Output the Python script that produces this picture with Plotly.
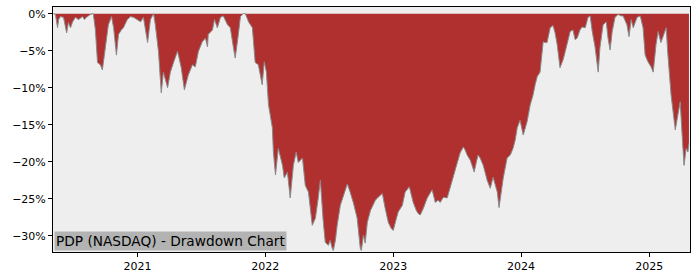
import plotly.graph_objects as go

dates = [
    "2020-05-06", "2020-05-12", "2020-05-18", "2020-05-21", "2020-05-26", "2020-06-04", "2020-06-13", "2020-06-18",
    "2020-06-24", "2020-06-30", "2020-07-08", "2020-07-17", "2020-07-28", "2020-08-03", "2020-08-08", "2020-08-14",
    "2020-08-20", "2020-08-28", "2020-09-03", "2020-09-09", "2020-09-17", "2020-09-23", "2020-10-02", "2020-10-10",
    "2020-10-19", "2020-10-25", "2020-11-02", "2020-11-08", "2020-11-16", "2020-11-22", "2020-12-03", "2020-12-12",
    "2020-12-21", "2021-01-01", "2021-01-10", "2021-01-18", "2021-01-30", "2021-02-07", "2021-02-16", "2021-02-21",
    "2021-03-02", "2021-03-10", "2021-03-16", "2021-03-28", "2021-04-05", "2021-04-14", "2021-04-25", "2021-04-28",
    "2021-05-06", "2021-05-15", "2021-05-26", "2021-06-07", "2021-06-15", "2021-06-24", "2021-07-05", "2021-07-14",
    "2021-07-20", "2021-07-22", "2021-08-03", "2021-08-09", "2021-08-17", "2021-08-26", "2021-09-03", "2021-09-15",
    "2021-09-23", "2021-10-02", "2021-10-07", "2021-10-16", "2021-10-22", "2021-10-30", "2021-11-05", "2021-11-14",
    "2021-11-25", "2021-12-03", "2021-12-12", "2021-12-23", "2021-12-29", "2022-01-04", "2022-01-10", "2022-01-21",
    "2022-01-24", "2022-01-30", "2022-02-04", "2022-02-07", "2022-02-19", "2022-02-24", "2022-03-05", "2022-03-13",
    "2022-03-22", "2022-03-30", "2022-04-05", "2022-04-17", "2022-04-25", "2022-05-04", "2022-05-15", "2022-05-24",
    "2022-06-01", "2022-06-07", "2022-06-15", "2022-06-21", "2022-06-30", "2022-07-05", "2022-07-11", "2022-07-14",
    "2022-07-20", "2022-07-25", "2022-08-03", "2022-08-12", "2022-08-23", "2022-08-31", "2022-09-09", "2022-09-20",
    "2022-09-29", "2022-10-02", "2022-10-08", "2022-10-13", "2022-10-19", "2022-10-28", "2022-11-05", "2022-11-11",
    "2022-11-19", "2022-12-01", "2022-12-09", "2022-12-18", "2022-12-26", "2023-01-01", "2023-01-07", "2023-01-15",
    "2023-01-27", "2023-02-04", "2023-02-16", "2023-02-21", "2023-02-27", "2023-03-08", "2023-03-13", "2023-03-19",
    "2023-03-28", "2023-04-08", "2023-04-22", "2023-05-01", "2023-05-09", "2023-05-15", "2023-05-24", "2023-06-04",
    "2023-06-13", "2023-06-21", "2023-07-03", "2023-07-11", "2023-07-20", "2023-07-25", "2023-07-31", "2023-08-09",
    "2023-08-14", "2023-08-20", "2023-08-26", "2023-08-31", "2023-09-06", "2023-09-15", "2023-09-26", "2023-10-05",
    "2023-10-13", "2023-10-19", "2023-10-25", "2023-10-30", "2023-11-05", "2023-11-11", "2023-11-22", "2023-12-01",
    "2023-12-09", "2023-12-15", "2023-12-21", "2023-12-29", "2024-01-07", "2024-01-13", "2024-01-18", "2024-01-27",
    "2024-02-04", "2024-02-10", "2024-02-16", "2024-02-24", "2024-03-01", "2024-03-04", "2024-03-10", "2024-03-15",
    "2024-03-24", "2024-04-01", "2024-04-07", "2024-04-13", "2024-04-21", "2024-04-30", "2024-05-06", "2024-05-11",
    "2024-05-20", "2024-05-28", "2024-06-03", "2024-06-09", "2024-06-17", "2024-06-23", "2024-07-02", "2024-07-10",
    "2024-07-16", "2024-07-22", "2024-07-30", "2024-08-08", "2024-08-13", "2024-08-22", "2024-08-31", "2024-09-05",
    "2024-09-11", "2024-09-17", "2024-09-25", "2024-10-04", "2024-10-12", "2024-10-18", "2024-10-29", "2024-11-04",
    "2024-11-10", "2024-11-16", "2024-11-27", "2024-12-06", "2024-12-14", "2024-12-20", "2024-12-28", "2025-01-06",
    "2025-01-12", "2025-01-20", "2025-01-26", "2025-02-03", "2025-02-09", "2025-02-18", "2025-02-23", "2025-03-04",
    "2025-03-16", "2025-03-24", "2025-03-30", "2025-04-04", "2025-04-10", "2025-04-16", "2025-04-21", "2025-04-24",
]

drawdown_pct = [
    0.0, -0.1, -1.9, -0.8, -0.4, -0.5, -2.6, -1.2,
    -1.9, -1.1, -0.5, -0.8, -0.4, -0.8, -0.5, -0.3,
    -0.1, 0.0, -2.2, -6.6, -6.9, -7.6, -4.6, -1.5,
    -0.4, -1.9, -5.6, -2.8, -2.2, -1.9, -0.8, -0.4,
    -0.5, -0.8, -1.1, -0.5, -3.9, -0.8, 0.0, -1.5,
    -5.1, -10.7, -7.9, -10.0, -7.9, -6.6, -5.1, -5.6,
    -7.3, -10.3, -8.3, -6.9, -7.2, -5.1, -3.8, -3.3,
    -4.5, -2.8, -2.2, -0.8, -1.9, -0.5, -0.3, -1.5,
    -1.9, -4.6, -6.0, -2.8, -0.4, 0.0, 0.0, -1.1,
    -1.9, -6.6, -6.9, -9.6, -6.5, -7.9, -12.3, -15.4,
    -18.7, -21.8, -19.1, -18.2, -20.5, -22.2, -21.4, -24.9,
    -20.5, -18.7, -20.1, -19.5, -23.2, -24.1, -28.6, -27.6,
    -24.9, -22.5, -27.9, -30.9, -31.3, -30.6, -31.7, -32.0,
    -30.6, -28.6, -25.9, -24.5, -23.0, -24.1, -25.5, -27.6,
    -31.7, -32.0, -29.9, -31.0, -28.2, -26.6, -25.9, -25.2,
    -24.8, -24.3, -26.3, -28.2, -29.0, -29.3, -28.2, -26.8,
    -25.9, -24.1, -23.4, -24.5, -25.5, -26.6, -27.0, -27.2,
    -26.3, -24.9, -23.8, -25.5, -25.2, -25.5, -24.8, -24.9,
    -23.2, -22.1, -20.1, -18.8, -18.0, -18.4, -19.1, -19.8,
    -20.5, -21.4, -20.1, -19.1, -19.5, -20.5, -22.5, -23.6,
    -22.1, -23.2, -24.1, -26.2, -23.8, -22.2, -19.5, -19.1,
    -18.2, -17.1, -15.4, -14.4, -16.4, -15.4, -14.6, -12.3,
    -11.0, -9.6, -8.5, -7.9, -5.6, -3.8, -3.9, -3.9,
    -1.9, -1.6, -2.6, -4.2, -7.3, -6.2, -5.1, -4.2,
    -2.4, -2.2, -3.5, -3.3, -2.2, -1.8, -1.9, -0.5,
    -0.3, -2.4, -4.5, -7.9, -4.6, -1.5, -1.1, -3.3,
    -4.9, -2.4, -0.5, -0.1, -0.3, -0.3, -1.5, -3.1,
    -0.8, -1.9, -0.5, -0.3, -1.9, -5.6, -6.5, -7.2,
    -7.9, -4.2, -2.4, -3.9, -3.1, -1.9, -5.6, -11.0,
    -15.7, -13.3, -11.9, -16.0, -20.5, -18.2, -18.7, -17.5,
]

y_tick_vals = [0, -5, -10, -15, -20, -25, -30]
y_tick_text = ["0%", "\u22125%", "\u221210%", "\u221215%", "\u221220%", "\u221225%", "\u221230%"]
x_tick_vals = ["2021-01-01", "2022-01-01", "2023-01-01", "2024-01-01", "2025-01-01"]
x_tick_text = ["2021", "2022", "2023", "2024", "2025"]
title_text = "PDP (NASDAQ) - Drawdown Chart"

fig = go.Figure()
fig.add_trace(go.Scatter(
    x=dates, y=drawdown_pct, mode="lines",
    fill="tozeroy", fillcolor="#b03030",
    line=dict(color="#8a8a8a", width=1),
    hoverinfo="skip", showlegend=False,
))

fig.update_layout(
    width=700, height=280,
    margin=dict(l=53, r=10, t=7, b=28),
    paper_bgcolor="white", plot_bgcolor="#eeeeee",
    font=dict(family="DejaVu Sans", size=11, color="black"),
    showlegend=False,
    annotations=[dict(
        text=title_text, xref="paper", yref="paper", x=0, y=0,
        xanchor="left", yanchor="bottom", showarrow=False,
        font=dict(family="DejaVu Sans", size=13.7, color="black"),
        bgcolor="#b3b3b3", borderpad=1, xshift=1, yshift=1,
    )],
)
fig.update_xaxes(
    type="date", range=["2020-05-05", "2025-04-27"],
    tickvals=x_tick_vals, ticktext=x_tick_text,
    showgrid=False, zeroline=False,
    showline=True, linecolor="black", linewidth=1, mirror=True,
    ticks="outside", ticklen=4, tickcolor="black",
)
fig.update_yaxes(
    range=[-32.2, 0.9],
    tickvals=y_tick_vals, ticktext=y_tick_text,
    showgrid=False, zeroline=False,
    showline=True, linecolor="black", linewidth=1, mirror=True,
    ticks="outside", ticklen=4, tickcolor="black",
)

fig.write_html("out.html")
